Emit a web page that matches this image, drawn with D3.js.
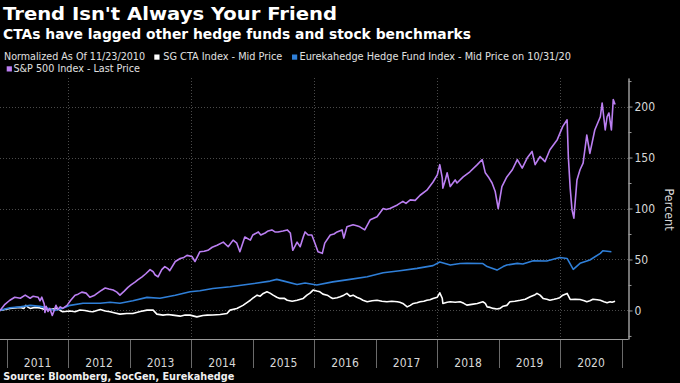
<!DOCTYPE html>
<html>
<head>
<meta charset="utf-8">
<script src="https://cdn.jsdelivr.net/npm/d3@7/dist/d3.min.js"></script>
<style>
  html, body { margin: 0; padding: 0; background: #000; }
  svg { display: block; }
</style>
</head>
<body>
<svg id="chart" width="680" height="383"></svg>
<script>
// ---------------- DATA (decimal year, percent) ----------------
const years = [2011, 2012, 2013, 2014, 2015, 2016, 2017, 2018, 2019, 2020];
const yMajorTicks = [0, 50, 100, 150, 200];
const yMinorTicks = [-25, 25, 75, 125, 175, 225];

// SG CTA Index - Mid Price
const sgDates = [
  2010.89,2010.97,2011.05,2011.13,2011.22,2011.28,2011.31,2011.35,2011.38,2011.46,2011.54,2011.62,2011.70,2011.82,2011.87,2011.91,
  2012.03,2012.11,2012.19,2012.27,2012.35,2012.40,2012.52,2012.60,2012.68,2012.76,2012.84,2012.95,
  2013.05,2013.17,2013.28,2013.38,2013.44,2013.54,2013.62,2013.70,2013.82,2013.90,2013.98,
  2014.09,2014.19,2014.26,2014.35,2014.47,2014.58,2014.63,2014.74,2014.84,2014.91,2014.96,
  2015.00,2015.07,2015.12,2015.17,2015.23,2015.28,2015.33,2015.39,2015.44,2015.51,2015.56,2015.64,2015.72,2015.82,2015.88,2015.93,2015.98,
  2016.04,2016.09,2016.14,2016.21,2016.26,2016.30,2016.37,2016.42,2016.48,2016.53,2016.58,2016.63,2016.69,2016.74,2016.79,2016.86,2016.94,
  2017.02,2017.10,2017.18,2017.26,2017.35,2017.39,2017.44,2017.51,2017.56,2017.61,2017.67,2017.72,2017.78,2017.83,2017.88,2017.93,
  2018.00,2018.04,2018.08,2018.09,2018.16,2018.21,2018.29,2018.37,2018.43,2018.48,2018.56,2018.65,2018.74,2018.78,2018.81,2018.86,2018.91,2018.97,
  2019.02,2019.07,2019.13,2019.18,2019.26,2019.35,2019.43,2019.51,2019.59,2019.62,2019.67,2019.72,2019.78,2019.83,2019.90,2019.95,2019.99,
  2020.04,2020.11,2020.16,2020.24,2020.32,2020.39,2020.43,2020.48,2020.53,2020.60,2020.65,2020.71,2020.76,2020.81,2020.84,2020.89
];
const sgValues = [
  0,1,2,2.5,3,2,5,3,2,3,2.5,1,1,2,0,-1.3,
  -0.5,-1.3,0.5,0,-1,-1.3,1,-0.5,-1.3,-2.5,-3.6,-3,
  -3,-1,0.3,0.3,-3.6,-4.6,-4,-4.6,-5.6,-4.5,-4.6,
  -6.3,-5,-4.6,-4.5,-4,-3,0.3,2,5,8,10,
  12,15,14,16.7,18.3,17,15,13,11.8,12,10,9,10,11.8,15,17,20,
  19,18.3,16,15,13,11.8,12.5,13.4,15,16.7,14,15,13,11.8,10,8.5,9.5,
  10,9,8.5,9,8.5,8,6.9,3.5,5,6.9,7.5,8.5,9,10,10.5,11.8,
  13,17.3,12,6.9,8,8.5,8,8.5,7,5.2,6,6.9,8.5,7,3.5,3,2,1.5,
  2,4.2,5,8.5,9,10,11,13.4,15.5,16.7,15,11.8,11,10,11,11.8,12.5,
  15,16.7,10.8,11,10.8,9.5,8.5,9.5,11,10.5,10,8.5,7.5,8.5,8,9
];

// Eurekahedge Hedge Fund Index - Mid Price on 10/31/20
const ehDates = [
  2010.89,2011.05,2011.22,2011.38,2011.54,2011.65,2011.78,2011.90,2012.03,2012.24,
  2012.52,2012.68,2012.84,2013.05,2013.28,2013.49,2013.74,2013.98,2014.14,2014.35,
  2014.63,2014.96,2015.28,2015.39,2015.49,2015.72,2015.85,2016.04,2016.30,2016.58,
  2016.86,2017.12,2017.39,2017.67,2017.93,2018.04,2018.21,2018.37,2018.48,2018.74,
  2018.81,2018.97,2019.07,2019.13,2019.30,2019.39,2019.56,2019.78,2019.99,2020.11,
  2020.21,2020.32,2020.48,2020.65,2020.69,2020.83
];
const ehValues = [
  0,2.6,3.5,5,4,2.5,0,2,5,7,
  7,8,7,9.5,12.8,12,15,18.3,19.3,21.6,
  23.2,25.9,28.8,30.5,29,25.5,27,24.9,28,30.5,
  33,37,39,41.3,44,47.5,44.5,46,46.2,46,
  43,39.6,43,44.5,46.2,45.5,48.8,48.5,52,51,
  40.3,46.2,49.5,56,58.6,57.6
];

// S&P 500 Index - Last Price
const spxDates = [
  2010.89,2010.97,
  2011.05,2011.13,2011.22,2011.30,2011.38,2011.43,2011.51,2011.54,2011.57,2011.61,2011.62,2011.64,2011.67,2011.70,2011.74,2011.77,2011.80,2011.83,2011.87,2011.91,2011.98,
  2012.04,2012.11,2012.16,2012.22,2012.29,2012.35,2012.43,2012.52,2012.60,2012.66,2012.73,2012.79,2012.84,2012.91,2012.97,
  2013.02,2013.09,2013.13,2013.20,2013.26,2013.33,2013.38,2013.41,2013.46,2013.52,2013.57,2013.62,2013.65,2013.74,2013.82,2013.88,2013.93,
  2014.01,2014.06,2014.14,2014.21,2014.27,2014.34,2014.42,2014.52,2014.60,2014.68,2014.74,2014.79,2014.87,2014.96,
  2015.00,2015.09,2015.13,2015.20,2015.25,2015.31,2015.36,2015.41,2015.49,2015.56,2015.61,2015.65,2015.72,2015.77,2015.82,2015.85,2015.90,2015.96,
  2016.01,2016.06,2016.13,2016.17,2016.26,2016.32,2016.37,2016.45,2016.48,2016.53,2016.63,2016.69,2016.74,2016.82,2016.91,
  2017.02,2017.12,2017.17,2017.23,2017.35,2017.44,2017.49,2017.56,2017.64,2017.72,2017.83,2017.93,
  2018.00,2018.04,2018.08,2018.09,2018.13,2018.16,2018.21,2018.29,2018.32,2018.42,2018.53,2018.65,2018.73,2018.78,2018.83,2018.89,2018.94,2018.99,
  2019.05,2019.13,2019.22,2019.30,2019.38,2019.46,2019.54,2019.59,2019.67,2019.75,2019.83,2019.95,
  2020.04,2020.11,2020.13,2020.16,2020.19,2020.22,2020.27,2020.32,2020.37,2020.43,2020.48,2020.56,2020.65,2020.68,2020.73,2020.76,2020.79,2020.83,2020.86,2020.89
];
const spxValues = [
  0,6,
  10,13,12,15,12,14,13,9.5,13,6,-2,4,-1,2,-5,0,5,1,3.5,2,5,
  10,15,16,18,17,13,15,19,22,21,20,18,15,19,22.6,
  25,28,30,33,36,40,38,35,33,40,43,41,39,48,51,52,54,
  53,48,57.6,58,59,62,64,67,62.5,69,66,57.6,72,69,
  74,77,74,76,78,79,77,77,78,79,76,59,67,62.5,72,77,74,74,
  66,57.6,56,66,74,75,77,79,71,82,84,83,82,79,89,
  92,100,99,100,103.5,107,105,108.5,108,113,118,126,
  133,143,130,120,128,135,121.5,128,125,131,136,143,148,135,131,125,117,100,
  121.5,131,138,148,139.6,149.5,156,143,151,146,157.6,167.5,
  180.5,187,151,120,98.6,90.5,128,138,144.5,172,154,177,190,203.5,177,190,193.7,177,206.8,202
];

const seriesList = [
  { name: "SG CTA Index - Mid Price", dates: sgDates, values: sgValues, color: "#ffffff" },
  { name: "Eurekahedge Hedge Fund Index - Mid Price on 10/31/20", dates: ehDates, values: ehValues, color: "#2f7fd8" },
  { name: "S&P 500 Index - Last Price", dates: spxDates, values: spxValues, color: "#bb7ff2" }
];

// ---------------- CHART ----------------
const svg = d3.select("#chart");
const W = 680, H = 383;
svg.append("rect").attr("width", W).attr("height", H).attr("fill", "#000");

const plot = { left: 0, right: 628, top: 78, bottom: 339 };
const x = d3.scaleLinear().domain([2010.89, 2021.10]).range([plot.left, plot.right]);
const y = d3.scaleLinear().domain([-28, 228]).range([plot.bottom, plot.top]);

const condensed = "'DejaVu Sans Condensed', 'DejaVu Sans', sans-serif";
const boldFont = "'DejaVu Sans', sans-serif";

// Gridlines
const grid = svg.append("g").attr("stroke", "#4a4a4a").attr("stroke-width", 1).attr("stroke-dasharray", "1,2");
grid.selectAll("line.h").data(yMajorTicks).join("line")
  .attr("x1", plot.left).attr("x2", plot.right)
  .attr("y1", d => Math.round(y(d)) + 0.5).attr("y2", d => Math.round(y(d)) + 0.5);
grid.selectAll("line.v").data(years.filter(d => d % 2 === 0)).join("line")
  .attr("x1", d => Math.round(x(d)) + 0.5).attr("x2", d => Math.round(x(d)) + 0.5)
  .attr("y1", plot.top).attr("y2", plot.bottom);

// Lines
const line = d3.line().x(d => x(d[0])).y(d => y(d[1])).curve(d3.curveLinear);
svg.append("g").selectAll("path").data(seriesList).join("path")
  .attr("d", s => line(d3.zip(s.dates, s.values)))
  .attr("fill", "none")
  .attr("stroke", s => s.color)
  .attr("stroke-width", 1.6)
  .attr("stroke-linejoin", "round");

// Right axis (minor + major)
const axisColor = "#9a9a9a";
const gMinor = svg.append("g").attr("transform", `translate(${plot.right + 0.5},0)`)
  .call(d3.axisRight(y).tickValues(yMinorTicks).tickSize(3).tickSizeOuter(0).tickFormat(""));
const gMajor = svg.append("g").attr("transform", `translate(${plot.right + 0.5},0)`)
  .call(d3.axisRight(y).tickValues(yMajorTicks).tickSize(4).tickPadding(2).tickSizeOuter(0));
[gMinor, gMajor].forEach(g => {
  g.selectAll("path.domain").attr("stroke", axisColor);
  g.selectAll(".tick line").attr("stroke", axisColor);
});
gMajor.selectAll(".tick text")
  .attr("fill", "#d8d8d8")
  .style("font-family", condensed)
  .style("font-size", "12px");

// Y title
svg.append("text")
  .attr("transform", "translate(665,209.5) rotate(90)")
  .attr("text-anchor", "middle")
  .attr("fill", "#d8d8d8")
  .style("font-family", condensed)
  .style("font-size", "12.5px")
  .text("Percent");

// Bottom axis line
svg.append("line")
  .attr("x1", plot.left).attr("x2", plot.right + 0.5)
  .attr("y1", plot.bottom + 0.5).attr("y2", plot.bottom + 0.5)
  .attr("stroke", axisColor);

// Year separators & labels
const yearBounds = years.concat([2021]);
svg.append("g").selectAll("line").data(yearBounds).join("line")
  .attr("x1", d => Math.round(x(d)) + 0.5).attr("x2", d => Math.round(x(d)) + 0.5)
  .attr("y1", plot.bottom + 1).attr("y2", 368)
  .attr("stroke", "#6a6a6a");
svg.append("g").selectAll("text").data(years).join("text")
  .attr("x", d => (x(d) + x(d + 1)) / 2)
  .attr("y", 366.7)
  .attr("text-anchor", "middle")
  .attr("fill", "#d8d8d8")
  .style("font-family", condensed)
  .style("font-size", "12px")
  .text(d => d);

// Titles
svg.append("text").attr("x", 3).attr("y", 20)
  .attr("fill", "#ffffff").style("font-family", boldFont).style("font-weight", "bold")
  .style("font-size", "18px").attr("textLength", 334).attr("lengthAdjust", "spacingAndGlyphs")
  .text("Trend Isn't Always Your Friend");
svg.append("text").attr("x", 3).attr("y", 38.8)
  .attr("fill", "#ffffff").style("font-family", boldFont).style("font-weight", "bold")
  .style("font-size", "13.5px").attr("textLength", 468).attr("lengthAdjust", "spacingAndGlyphs")
  .text("CTAs have lagged other hedge funds and stock benchmarks");

// Legend
const legendText = (tx, ty, len, str) => svg.append("text")
  .attr("x", tx).attr("y", ty).attr("fill", "#e0e0e0")
  .style("font-family", condensed).style("font-size", "10px")
  .attr("textLength", len).attr("lengthAdjust", "spacingAndGlyphs").text(str);
legendText(4, 60.3, 141, "Normalized As Of 11/23/2010");
const legendItems = [
  { s: seriesList[0], sx: 154.3, sy: 54.5, tx: 163.3, ty: 60.3, len: 119 },
  { s: seriesList[1], sx: 292, sy: 54.5, tx: 299.5, ty: 60.3, len: 271.5 },
  { s: seriesList[2], sx: 6.7, sy: 66.3, tx: 13.5, ty: 72, len: 126.5 }
];
legendItems.forEach(it => {
  svg.append("rect").attr("x", it.sx).attr("y", it.sy).attr("width", 5.2).attr("height", 5.2).attr("fill", it.s.color);
  legendText(it.tx, it.ty, it.len, it.s.name);
});

// Source
svg.append("text").attr("x", 3.3).attr("y", 379.5)
  .attr("fill", "#f0f0f0").style("font-family", boldFont).style("font-weight", "bold")
  .style("font-size", "10px").attr("textLength", 231).attr("lengthAdjust", "spacingAndGlyphs")
  .text("Source: Bloomberg, SocGen, Eurekahedge");
</script>
</body>
</html>
